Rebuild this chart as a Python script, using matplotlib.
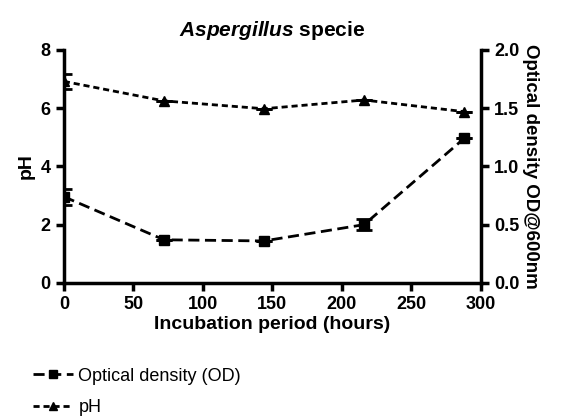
import numpy as np
import matplotlib
matplotlib.use("Agg")
import matplotlib.pyplot as plt
from matplotlib.lines import Line2D

plt.rcParams['font.family'] = ['Liberation Sans', 'DejaVu Sans']
plt.rcParams['mathtext.fontset'] = 'custom'
plt.rcParams['mathtext.it'] = 'Liberation Sans:italic:bold'
plt.rcParams['mathtext.rm'] = 'Liberation Sans:bold'

hours = [0, 72, 144, 216, 288]
ph = [6.92, 6.25, 5.98, 6.28, 5.88]
ph_err = [0.25, 0.0, 0.0, 0.0, 0.0]
od = [0.74, 0.37, 0.36, 0.50, 1.24]
od_err = [0.07, 0.0, 0.0, 0.05, 0.0]

fig = plt.figure(figsize=(5.65, 4.16), dpi=100)
ax1 = fig.add_axes([0.113, 0.32, 0.738, 0.56])
ax2 = ax1.twinx()

ax1.errorbar(hours, ph, yerr=ph_err, color='black', ls=(0, (2.2, 1.4)), lw=2,
             marker='^', ms=7, capsize=6, capthick=2, elinewidth=2)
ax2.errorbar(hours, od, yerr=od_err, color='black', ls=(0, (4, 2)), lw=2,
             marker='s', ms=7, capsize=6, capthick=2, elinewidth=2)

ax1.set_xlim(0, 300)
ax1.set_ylim(0, 8)
ax2.set_ylim(0, 2.0)
ax1.set_xticks([0, 50, 100, 150, 200, 250, 300])
ax1.set_yticks([0, 2, 4, 6, 8])
ax2.set_yticks([0, 0.5, 1.0, 1.5, 2.0])
ax2.set_yticklabels(['0.0', '0.5', '1.0', '1.5', '2.0'])

for a in (ax1, ax2):
    a.spines['top'].set_visible(False)
    for s in a.spines.values():
        s.set_linewidth(2.5)
    a.tick_params(width=2.5, length=6, labelsize=13)
    for lbl in a.get_xticklabels() + a.get_yticklabels():
        lbl.set_fontweight('bold')
ax1.spines['right'].set_visible(False)
ax2.spines['left'].set_visible(False)
ax2.spines['bottom'].set_visible(False)

ax1.set_xlabel('Incubation period (hours)', fontsize=14, fontweight='bold', labelpad=2)
ax1.set_ylabel('pH', fontsize=14, fontweight='bold')
ax2.set_ylabel('Optical density OD@600nm', fontsize=13.5, fontweight='bold',
               rotation=270, labelpad=14)
ax1.set_title(r'$\it{Aspergillus}$ specie', fontsize=15, fontweight='bold', pad=10)

handles = [Line2D([], [], color='black', ls=(0, (4, 2)), lw=2, marker='s', ms=6),
           Line2D([], [], color='black', ls=(0, (2.2, 1.4)), lw=2, marker='^', ms=6)]
fig.legend(handles, ['Optical density (OD)', 'pH'], loc='upper left',
           bbox_to_anchor=(0.03, 0.155), frameon=False, fontsize=13,
           handlelength=2.2, handletextpad=0.3, labelspacing=0.8)

fig.savefig('out.png', dpi=100)
